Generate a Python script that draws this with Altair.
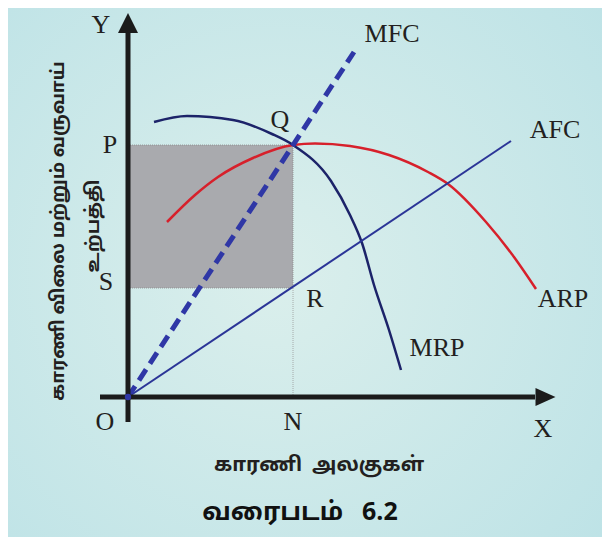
import altair as alt
import pandas as pd

# ---- curve data (origin O = (0,0); x = factor units, y = price / revenue) ----
mrp_x = [26, 59, 105, 144, 165, 203, 222, 234, 246, 261, 273]
mrp_y = [275, 281, 277, 263, 252, 216, 182, 154, 112, 67, 27]
arp_x = [39, 67, 90, 125, 165, 187, 222, 261, 300, 320, 358, 386, 408]
arp_y = [175, 202, 220, 239, 252, 253.5, 251, 242, 225, 213, 175, 140, 108]
mfc_x = [0, 226]
mfc_y = [0, 345]
afc_x = [0, 383]
afc_y = [0, 256]
eq_n = 165      # N
eq_p = 252      # P (= Q)
eq_s = 109      # S (= R)

# axes extents
y_axis = [-25, 364]
x_axis = [-28, 407]
y_tip = 374
x_tip = 417.5

# point labels
label_text = ["Y", "X", "O", "N", "P", "S", "Q", "R", "MFC", "AFC", "ARP", "MRP"]
label_x = [-27, 415, -23, 165, -18, -22, 152, 187, 264, 427, 435, 309]
label_y = [364, -40, -33, -33, 244, 107, 269, 90, 355, 259, 90, 41]

ytitle_1 = "காரணி விலை மற்றும் வருவாய்"
ytitle_2 = "உற்பத்தி"
xtitle = "காரணி\u2002அலகுகள்"
caption = "வரைபடம்\u2002 6.2"

XD = [-120, 474]
YD = [-140, 389]
xs = alt.Scale(domain=XD, nice=False, zero=False)
ys = alt.Scale(domain=YD, nice=False, zero=False)


def X(f="x"):
    return alt.X(f"{f}:Q", scale=xs, axis=None)


def Y(f="y"):
    return alt.Y(f"{f}:Q", scale=ys, axis=None)


bg = alt.Chart(pd.DataFrame({"x": [XD[0]], "x2": [XD[1]], "y": [YD[0]], "y2": [YD[1]]})).mark_rect(
    color=alt.RadialGradient(
        gradient="radial",
        stops=[alt.GradientStop(offset=0, color="#dbefec"), alt.GradientStop(offset=1, color="#bce2e6")],
        x1=0.45, y1=0.5, x2=0.45, y2=0.5, r1=0, r2=0.75,
    )
).encode(x=X(), x2="x2:Q", y=Y(), y2="y2:Q")

rect = alt.Chart(pd.DataFrame({"x": [0], "x2": [eq_n], "y": [eq_s], "y2": [eq_p]})).mark_rect(
    color="#a9aaae", stroke="#8a8a8a", strokeWidth=0.8, strokeDash=[1, 1]
).encode(x=X(), x2="x2:Q", y=Y(), y2="y2:Q")

vline = alt.Chart(pd.DataFrame({"x": [eq_n], "y": [0], "y2": [eq_s]})).mark_rule(
    color="#9a9a9a", strokeWidth=0.8, strokeDash=[1, 1]
).encode(x=X(), y=Y(), y2="y2:Q")

arp = alt.Chart(pd.DataFrame({"x": arp_x, "y": arp_y})).mark_line(
    color="#d7202b", strokeWidth=2.5, interpolate="monotone"
).encode(x=X(), y=Y())

mrp = alt.Chart(pd.DataFrame({"x": mrp_x, "y": mrp_y})).mark_line(
    color="#1c2369", strokeWidth=2.5, interpolate="monotone"
).encode(x=X(), y=Y())

afc = alt.Chart(pd.DataFrame({"x": afc_x, "y": afc_y})).mark_line(
    color="#2b3597", strokeWidth=2
).encode(x=X(), y=Y())

mfc = alt.Chart(pd.DataFrame({"x": mfc_x, "y": mfc_y})).mark_line(
    color="#2f37a6", strokeWidth=5, strokeDash=[13, 7]
).encode(x=X(), y=Y())

axes = alt.Chart(pd.DataFrame({
    "x": [0, x_axis[0]], "x2": [0, x_axis[1]],
    "y": [y_axis[0], 0], "y2": [y_axis[1], 0],
})).mark_rule(color="#1b1b1b", strokeWidth=5).encode(x=X(), x2="x2:Q", y=Y(), y2="y2:Q")

yarrow = alt.Chart(pd.DataFrame({"x": [0], "y": [y_tip]})).mark_point(
    shape="M -1 1 L 1 1 L 0 -1 Z", size=400, filled=True, color="#1b1b1b", opacity=1, strokeWidth=0
).encode(x=X(), y=Y())

xarrow = alt.Chart(pd.DataFrame({"x": [x_tip], "y": [0]})).mark_point(
    shape="M -1 -0.9 L 1 0 L -1 0.9 Z", size=400, filled=True, color="#1b1b1b", opacity=1, strokeWidth=0
).encode(x=X(), y=Y())

odot = alt.Chart(pd.DataFrame({"x": [0], "y": [0]})).mark_point(
    size=40, filled=True, color="#2f37a6", opacity=1
).encode(x=X(), y=Y())

labels = alt.Chart(pd.DataFrame({"x": label_x, "y": label_y, "t": label_text})).mark_text(
    font="Liberation Serif", fontSize=26, align="center", baseline="alphabetic", color="#231f20"
).encode(x=X(), y=Y(), text="t:N")

tam_font = "Noto Sans Tamil, Lohit Tamil, Noto Sans, sans-serif"

yt = alt.Chart(pd.DataFrame({"x": [-70, -35], "y": [166, 171], "t": [ytitle_1, ytitle_2]})).mark_text(
    font=tam_font, fontSize=18.5, fontWeight="bold", angle=270, align="center", baseline="middle", color="#231f20"
).encode(x=X(), y=Y(), text="t:N")

xt = alt.Chart(pd.DataFrame({"x": [191], "y": [-74], "t": [xtitle]})).mark_text(
    font=tam_font, fontSize=20, fontWeight="bold", align="center", baseline="alphabetic", color="#231f20"
).encode(x=X(), y=Y(), text="t:N")

cap = alt.Chart(pd.DataFrame({"x": [172], "y": [-123], "t": [caption]})).mark_text(
    font=tam_font, fontSize=25, fontWeight="bold", align="center", baseline="alphabetic", color="#111111"
).encode(x=X(), y=Y(), text="t:N")

chart = alt.layer(
    bg, rect, vline, arp, mrp, afc, mfc, axes, yarrow, xarrow, odot, labels, yt, xt, cap
).properties(
    width=594, height=529, padding=0, autosize=alt.AutoSizeParams(type="none"), background="white"
).configure_view(stroke=None)

chart.save("out.html", embed_options={"renderer": "svg", "actions": False})
